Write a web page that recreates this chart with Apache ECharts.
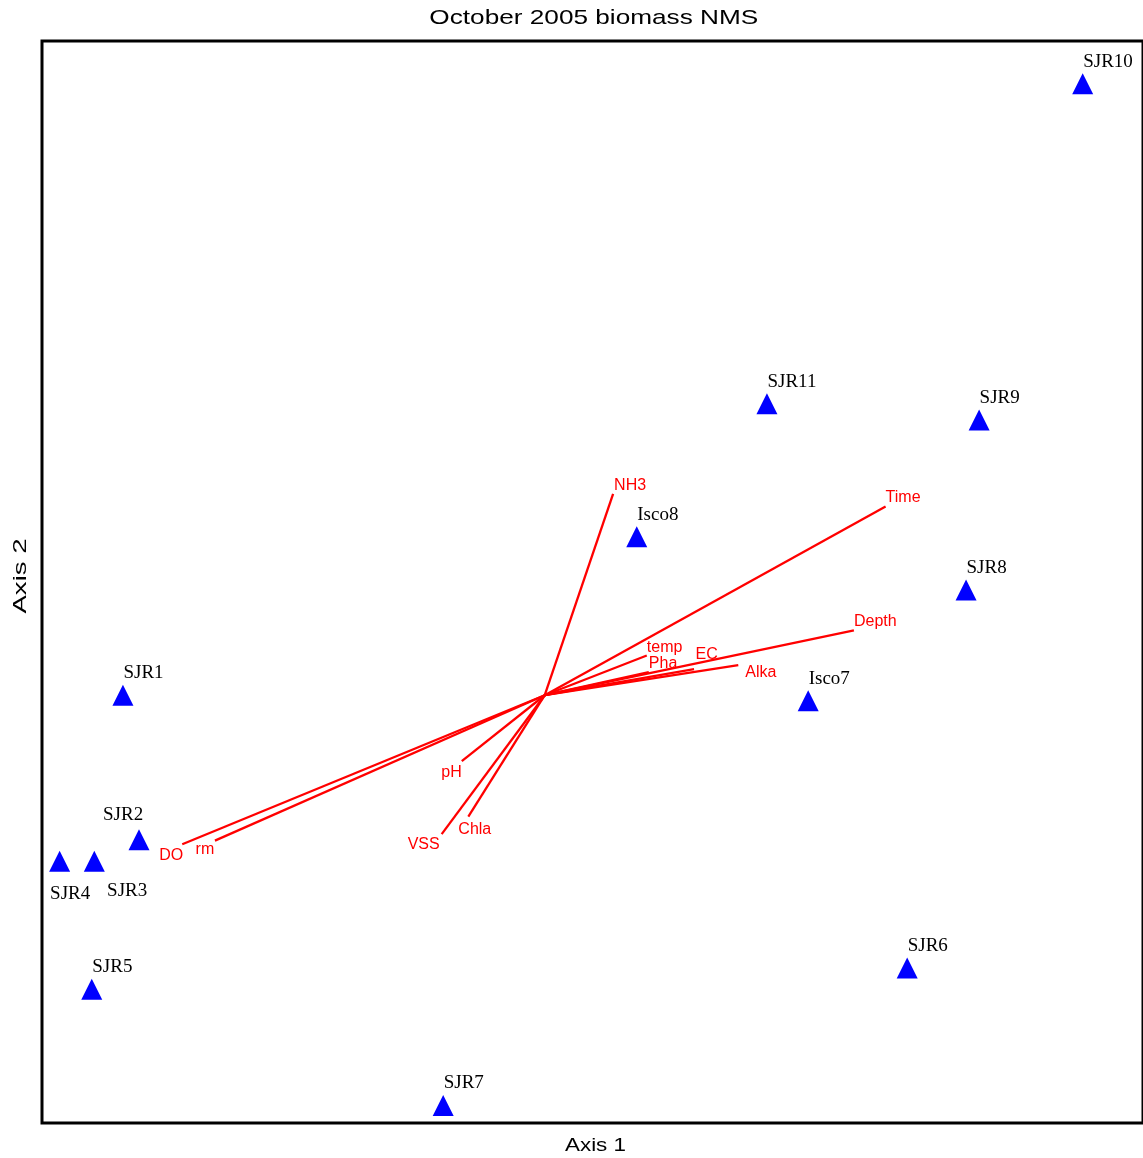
<!DOCTYPE html>
<html>
<head>
<meta charset="utf-8">
<script src="https://cdn.jsdelivr.net/npm/echarts@6/dist/echarts.min.js"></script>
<style>
  html, body { margin: 0; padding: 0; background: #ffffff; }
  #chart { width: 1143px; height: 1158px; }
</style>
</head>
<body>
<div id="chart"></div>
<script>
// Site scores on the two NMS axes
const siteNames = ['SJR1', 'SJR2', 'SJR3', 'SJR4', 'SJR5', 'SJR6', 'SJR7', 'SJR8', 'SJR9', 'SJR10', 'SJR11', 'Isco7', 'Isco8'];
const siteAxis1 = [-0.839, -0.807, -0.896, -0.965, -0.901, 0.721, -0.202, 0.838, 0.864, 1.070, 0.442, 0.524, 0.183];
const siteAxis2 = [0.000, -0.287, -0.330, -0.330, -0.584, -0.542, -0.815, 0.209, 0.547, 1.215, 0.579, -0.011, 0.315];

// Environmental variable vectors (joint plot), drawn from the origin
const envNames = ['NH3', 'Time', 'Depth', 'temp', 'Pha', 'EC', 'Alka', 'pH', 'VSS', 'Chla', 'DO', 'rm'];
const envAxis1 = [0.136, 0.678, 0.615, 0.203, 0.207, 0.297, 0.385, -0.165, -0.205, -0.152, -0.721, -0.656];
const envAxis2 = [0.400, 0.375, 0.129, 0.079, 0.046, 0.052, 0.060, -0.131, -0.276, -0.241, -0.296, -0.289];

// Axis extents (score units)
const axis1Range = [-1.0, 1.19];
const axis2Range = [-0.85, 1.3];

// Label placement of site names (pixel offset from the marker centre)
const siteLabelDefault = [0.5, -22];
const siteLabelOverride = {
  'SJR2': [-36, -24.5],
  'SJR4': [-9.5, 32.5],
  'SJR3': [12.8, 30]
};

// Label placement of vector names (pixel offset from the arrow tip)
const envLabelPlace = {
  'NH3':   { align: 'left',  dx: 1,   dy: -8.5 },
  'Time':  { align: 'left',  dx: 0,   dy: -9 },
  'Depth': { align: 'left',  dx: 0,   dy: -8.5 },
  'temp':  { align: 'left',  dx: 0,   dy: -7.5 },
  'Pha':   { align: 'left',  dx: 0,   dy: -8.5 },
  'EC':    { align: 'left',  dx: 1.4, dy: -14.5 },
  'Alka':  { align: 'left',  dx: 7,   dy: 7.5 },
  'pH':    { align: 'right', dx: 0,   dy: 11.5 },
  'VSS':   { align: 'right', dx: -2,  dy: 10.5 },
  'Chla':  { align: 'left',  dx: -10, dy: 13.5 },
  'DO':    { align: 'right', dx: 1,   dy: 11.5 },
  'rm':    { align: 'right', dx: -0.7, dy: 8.5 }
};

const siteData = siteNames.map(function (name, i) {
  const off = siteLabelOverride[name] || siteLabelDefault;
  return {
    name: name,
    value: [siteAxis1[i], siteAxis2[i]],
    label: { offset: off }
  };
});

const envData = envNames.map(function (name, i) {
  return { name: name, value: [envAxis1[i], envAxis2[i]] };
});

const chart = echarts.init(document.getElementById('chart'), null, { renderer: 'canvas' });

const hiddenAxis = {
  type: 'value',
  axisLine: { show: false },
  axisTick: { show: false },
  axisLabel: { show: false },
  splitLine: { show: false }
};

chart.setOption({
  animation: false,
  backgroundColor: '#ffffff',
  grid: {
    show: true,
    left: 42, right: 0, top: 41, bottom: 35,
    borderColor: '#000000',
    borderWidth: 3,
    backgroundColor: 'transparent'
  },
  xAxis: Object.assign({}, hiddenAxis, { min: axis1Range[0], max: axis1Range[1] }),
  yAxis: Object.assign({}, hiddenAxis, { min: axis2Range[0], max: axis2Range[1] }),
  graphic: [
    {
      type: 'text', x: 593.8, y: 18, scaleX: 1.247, silent: true,
      style: {
        text: 'October 2005 biomass NMS', fill: '#000000',
        font: '21px "Liberation Sans", Arial, sans-serif',
        align: 'center', verticalAlign: 'middle',
        textAlign: 'center', textVerticalAlign: 'middle'
      }
    },
    {
      type: 'text', x: 595.5, y: 1145.5, scaleX: 1.18, silent: true,
      style: {
        text: 'Axis 1', fill: '#000000',
        font: '19px "Liberation Sans", Arial, sans-serif',
        align: 'center', verticalAlign: 'middle',
        textAlign: 'center', textVerticalAlign: 'middle'
      }
    },
    {
      type: 'text', x: 20.5, y: 576, rotation: Math.PI / 2, scaleX: 1.45, silent: true,
      style: {
        text: 'Axis 2', fill: '#000000',
        font: '19px "Liberation Sans", Arial, sans-serif',
        align: 'center', verticalAlign: 'middle',
        textAlign: 'center', textVerticalAlign: 'middle'
      }
    }
  ],
  series: [
    {
      name: 'Variables',
      type: 'custom',
      data: envData,
      renderItem: function (params, api) {
        const name = envNames[params.dataIndex];
        const place = envLabelPlace[name];
        const o = api.coord([0, 0]);
        const e = api.coord([api.value(0), api.value(1)]);
        return {
          type: 'group',
          children: [
            {
              type: 'line',
              shape: { x1: o[0], y1: o[1], x2: e[0], y2: e[1] },
              style: { stroke: '#ff0000', lineWidth: 2.3 }
            },
            {
              type: 'text',
              x: e[0] + place.dx,
              y: e[1] + place.dy,
              style: {
                text: name, fill: '#ff0000',
                font: '16px "Liberation Sans", Arial, sans-serif',
                align: place.align, verticalAlign: 'middle'
              }
            }
          ]
        };
      }
    },
    {
      name: 'Sites',
      type: 'scatter',
      data: siteData,
      symbol: 'triangle',
      symbolSize: 21,
      itemStyle: { color: '#0000ff', opacity: 1 },
      label: {
        show: true,
        position: 'inside',
        align: 'left',
        verticalAlign: 'middle',
        formatter: '{b}',
        color: '#000000',
        fontFamily: '"Liberation Serif", "Times New Roman", serif',
        fontSize: 19
      }
    }
  ]
});
</script>
</body>
</html>
